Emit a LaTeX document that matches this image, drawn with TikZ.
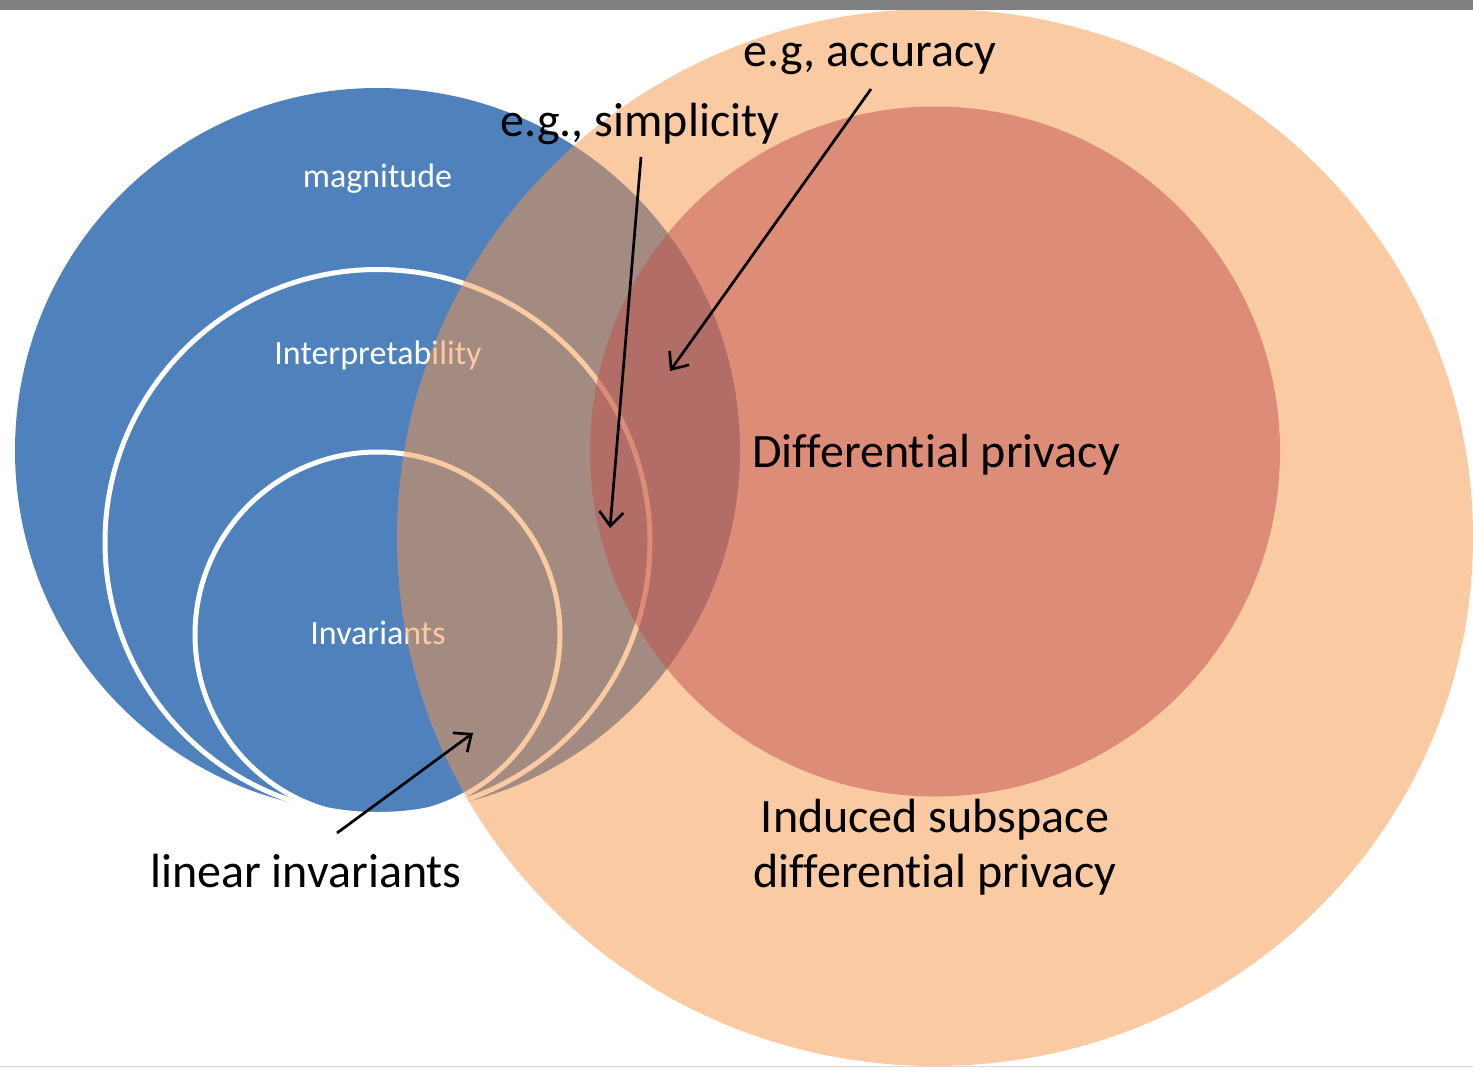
\documentclass[tikz,border=0pt]{standalone}
\usepackage{fontspec}
\setmainfont{Carlito}[Ligatures={NoCommon}]
\usetikzlibrary{arrows.meta}
\definecolor{cblue}{HTML}{4F81BD}
\definecolor{corange}{HTML}{F79646}
\definecolor{cred}{HTML}{C0504D}
\definecolor{cbar}{HTML}{7F7F7F}
\definecolor{cline}{HTML}{D9D9D9}
\tikzset{
  ring/.style={draw=white, line width=2.5pt},
  wlabel/.style={text=white, font=\fontsize{17}{20}\selectfont, inner sep=0pt, anchor=base},
  blabel/.style={text=black, font=\fontsize{24}{27.5}\selectfont, inner sep=0pt, anchor=base, align=center},
  pointer/.style={draw=black, line width=1.35pt, -{Straight Barb[length=7pt,width=12pt,line width=1.35pt]}}
}
\begin{document}
\begin{tikzpicture}[x=0.5pt,y=-0.5pt]
\useasboundingbox (0,0) rectangle (1473,1067);
\fill[white] (0,0) rectangle (1473,1067);
% blue circle
\fill[cblue] (377.5,450.5) circle [radius=181.25pt];
% inner rings
\draw[ring] (377.5,542) circle [radius=136.25pt];
\draw[ring] (377.5,634.5) circle [radius=91.25pt];
% white labels
\node[wlabel] (mag) at (377.5,187) {magnitude};
\node[wlabel] (interp) at (378,364) {Interpretability};
\node[wlabel] (inv) at (378,644) {Invariants};
% orange ellipse
\fill[corange, fill opacity=0.5] (935,537.5) ellipse [x radius=269pt, y radius=264.25pt];
% red circle
\fill[cred, fill opacity=0.5] (935,451.5) circle [radius=172.5pt];
% bars
\fill[cbar] (0,0) rectangle (1473,10);
\fill[cline] (0,1065.5) rectangle (1473,1067);
% black labels
\node[blabel] (acc) at (870,66) {e.g, accuracy};
\node[blabel] (simp) at (640,136) {e.g., simplicity};
\node[blabel] (dp) at (936,467) {Differential privacy};
\node[blabel, anchor=north] (isdp) at (935,799) {Induced subspace\\differential privacy};
\node[blabel] (lin) at (306,887) {linear invariants};
% arrow ends
\coordinate (a1s) at (871,89);
\coordinate (a1e) at (670,371);
\coordinate (a2s) at (641,157);
\coordinate (a2e) at (610,528);
\coordinate (a3s) at (337,833);
\coordinate (a3e) at (473,733);
\draw[pointer] (a1s) -- (a1e);
\draw[pointer] (a2s) -- (a2e);
\draw[pointer] (a3s) -- (a3e);
\end{tikzpicture}
\end{document}
